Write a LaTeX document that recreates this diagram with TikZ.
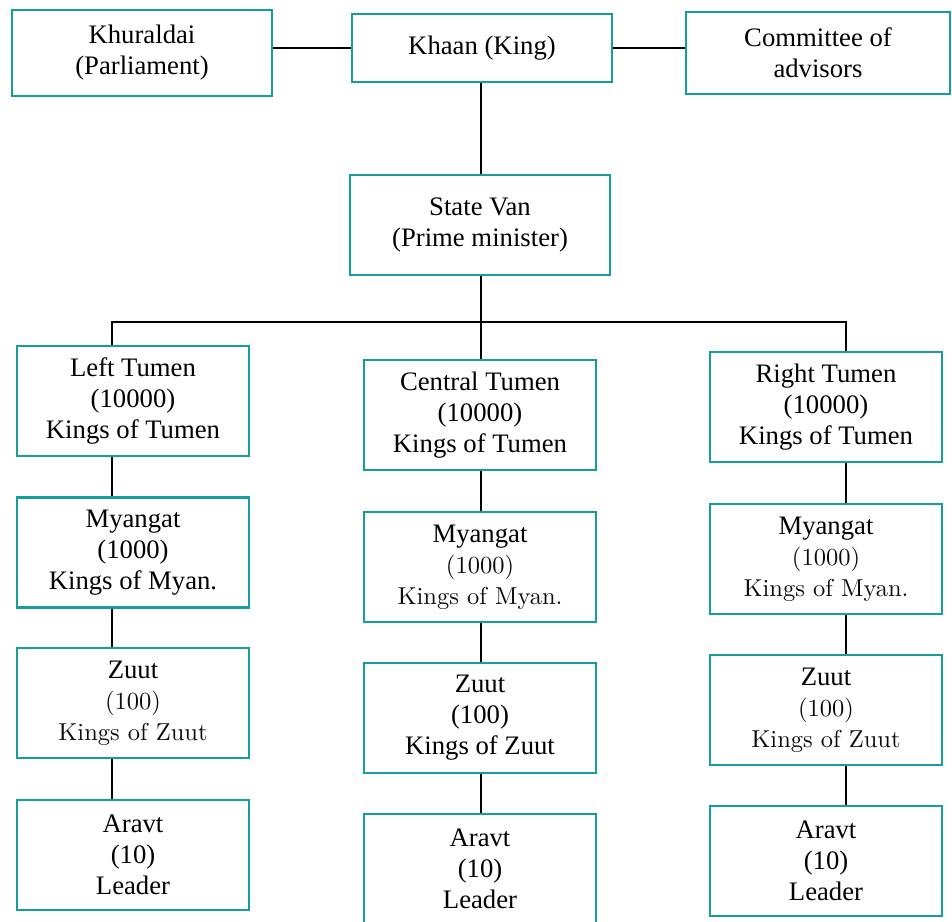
\documentclass[tikz,border=0pt]{standalone}
\usepackage{fontspec}
\setmainfont{Liberation Serif}
\newfontfamily\lightfont{lmroman10-regular.otf}
\usetikzlibrary{calc}

\definecolor{boxteal}{RGB}{22,158,158}
\newcommand{\lite}[1]{{\lightfont\fontsize{24.5}{31}\selectfont\color{black!95}#1}}

\tikzset{
  unit/.style={draw=boxteal, line width=2.5pt, rectangle, inner sep=0pt,
    align=center, font=\fontsize{26.7}{31}\selectfont},
  colbox/.style={unit, minimum width=232, minimum height=110},
  link/.style={line width=2pt, black}
}

\begin{document}
\begin{tikzpicture}[x=1pt, y=-1pt]
\clip (0,0) rectangle (952,921);
\fill[white] (0,0) rectangle (952,921);

% top row
\node[unit, minimum width=260, minimum height=86] (khural) at (142,53) {Khuraldai\\(Parliament)};
\node[unit, minimum width=260, minimum height=68] (khaan) at (482,48) {Khaan (King)};
\node[unit, minimum width=264, minimum height=82] (cmte) at (818,53) {Committee of\\advisors};
\node[unit, minimum width=260, minimum height=100] (van) at (480,225) {State Van\\(Prime minister)};

% left column
\node[colbox] (lt) at (133,401) {Left Tumen\\(10000)\\Kings of Tumen};
\node[colbox] (lm) at (133,552.5) {Myangat\\(1000)\\Kings of Myan.};
\node[colbox] (lz) at (133,703) {Zuut\\\lite{(100)}\\\lite{Kings of Zuut}};
\node[colbox] (la) at (133,855) {Aravt\\(10)\\Leader};

% central column
\node[colbox] (ct) at (480,415) {Central Tumen\\(10000)\\Kings of Tumen};
\node[colbox] (cm) at (480,567) {Myangat\\\lite{(1000)}\\\lite{Kings of Myan.}};
\node[colbox] (cz) at (480,718) {Zuut\\(100)\\Kings of Zuut};
\node[colbox] (ca) at (480,869) {Aravt\\(10)\\Leader};

% right column
\node[colbox] (rt) at (826,407) {Right Tumen\\(10000)\\Kings of Tumen};
\node[colbox] (rm) at (826,559) {Myangat\\\lite{(1000)}\\\lite{Kings of Myan.}};
\node[colbox] (rz) at (826,710) {Zuut\\\lite{(100)}\\\lite{Kings of Zuut}};
\node[colbox] (ra) at (826,861) {Aravt\\(10)\\Leader};

% bus and drop points
\coordinate (lx) at (112,322);
\coordinate (cx) at (481,322);
\coordinate (rx) at (846,322);

% connectors
\draw[link] (khural.east |- khaan.west) -- (khaan.west);
\draw[link] (khaan.east) -- (khaan.east -| cmte.west);
\draw[link] (cx |- khaan.south) -- (cx |- van.north);
\draw[link] (cx |- van.south) -- (cx |- ct.north);
\draw[link] (lx |- lt.north) -- (lx) -- (rx) -- (rx |- rt.north);
\foreach \c/\t/\m/\z/\a in {lx/lt/lm/lz/la, cx/ct/cm/cz/ca, rx/rt/rm/rz/ra}{
  \draw[link] (\c |- \t.south) -- (\c |- \m.north);
  \draw[link] (\c |- \m.south) -- (\c |- \z.north);
  \draw[link] (\c |- \z.south) -- (\c |- \a.north);
}
\end{tikzpicture}
\end{document}
